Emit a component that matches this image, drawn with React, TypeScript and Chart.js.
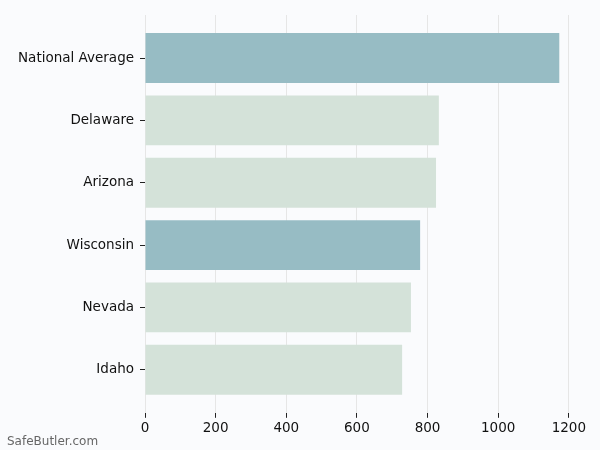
import React, { useEffect, useRef } from "react";
import { Chart, registerables } from "chart.js";

Chart.register(...registerables);

const categories = ["National Average", "Delaware", "Arizona", "Wisconsin", "Nevada", "Idaho"];
const values = [1173, 832, 824, 779, 753, 728];
const highlighted = [true, false, false, true, false, false];
const xTicks = [0, 200, 400, 600, 800, 1000, 1200];

const HIGHLIGHT = "#97bcc4";
const NORMAL = "#d4e2d9";
const BG = "#fafbfd";
const FONT = "'DejaVu Sans', sans-serif";

export default function App() {
  const ref = useRef<HTMLCanvasElement | null>(null);

  useEffect(() => {
    document.body.style.margin = "0";
    document.body.style.background = BG;
    const ctx = ref.current!.getContext("2d")!;
    const xMax = Math.max(...values) * 1.05;
    const chart = new Chart(ctx, {
      type: "bar",
      data: {
        datasets: [
          {
            data: values.map((v, i) => ({ x: v, y: i })),
            backgroundColor: highlighted.map((h) => (h ? HIGHLIGHT : NORMAL)),
            borderWidth: 0,
            barPercentage: 0.8,
            categoryPercentage: 1,
          },
        ],
      },
      options: {
        indexAxis: "y",
        animation: false,
        responsive: false,
        maintainAspectRatio: false,
        layout: { padding: { top: 15, right: 20, bottom: 10, left: 0 } },
        plugins: {
          legend: { display: false },
          tooltip: { enabled: false },
        },
        scales: {
          x: {
            type: "linear",
            min: 0,
            max: xMax,
            afterBuildTicks: (scale: any) => {
              scale.ticks = xTicks.map((v) => ({ value: v }));
            },
            border: { display: false },
            grid: {
              color: "#e6e6e6",
              lineWidth: 1,
              drawTicks: true,
              tickLength: 5,
              tickColor: "#222",
            },
            ticks: {
              color: "#111",
              font: { family: FONT, size: 13.5 },
              padding: 3,
              maxRotation: 0,
              callback: (v: any) => String(v),
            },
          },
          y: {
            type: "linear",
            min: -0.69,
            max: 5.69,
            reverse: true,
            offset: false,
            afterBuildTicks: (scale: any) => {
              scale.ticks = categories.map((_, i) => ({ value: i }));
            },
            afterFit: (scale: any) => {
              scale.width = 145;
            },
            border: { display: false },
            grid: {
              offset: false,
              drawOnChartArea: false,
              drawTicks: true,
              tickLength: 5,
              tickColor: "#222",
            },
            ticks: {
              color: "#111",
              font: { family: FONT, size: 13.5 },
              padding: 6,
              callback: (v: any) => categories[Math.round(Number(v))] ?? "",
            },
          },
        },
      },
    });
    return () => chart.destroy();
  }, []);

  return (
    <div style={{ position: "fixed", left: 0, top: 0, width: 600, height: 450, background: BG }}>
      <canvas ref={ref} width={600} height={450} style={{ width: 600, height: 450, display: "block" }} />
      <div
        style={{
          position: "absolute",
          left: 7,
          top: 433,
          fontFamily: FONT,
          fontSize: 12,
          color: "#666",
          lineHeight: "16px",
        }}
      >
        SafeButler.com
      </div>
    </div>
  );
}
